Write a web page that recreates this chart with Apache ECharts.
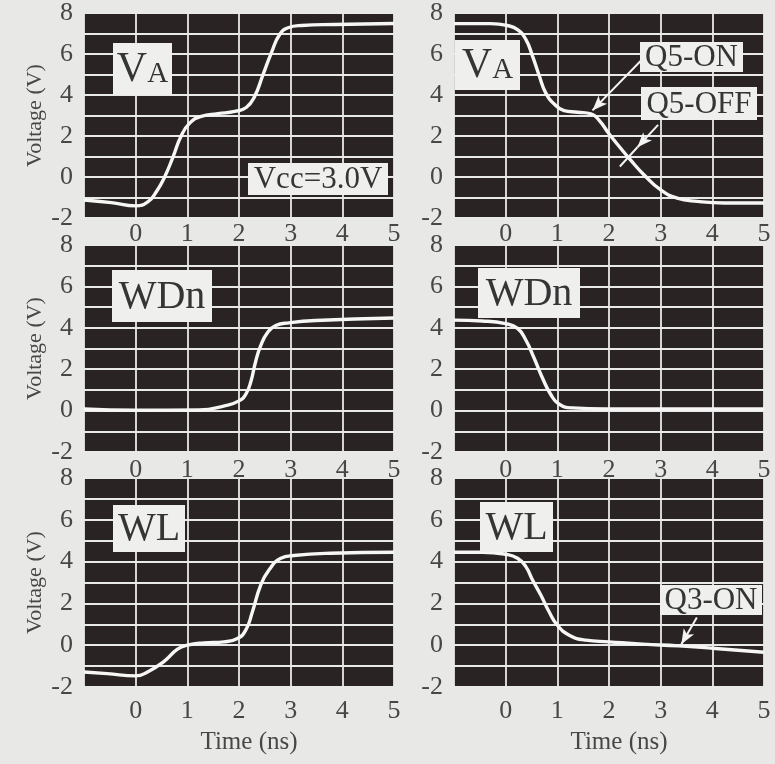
<!DOCTYPE html>
<html>
<head>
<meta charset="utf-8">
<script src="https://cdn.jsdelivr.net/npm/echarts@6/dist/echarts.min.js"></script>
<style>
  html, body { margin: 0; padding: 0; background: #e8e8e7; }
  #chart { width: 775px; height: 764px; }
</style>
</head>
<body>
<div id="chart"></div>
<script>
// tick labels
const xTickLabels = ['0', '1', '2', '3', '4', '5']
const yTickLabels = ['-2', '0', '2', '4', '6', '8']

// [time (ns), voltage (V)]
const vaRise = [[-1, -1.12], [-0.47, -1.25], [0, -1.41], [0.24, -1.2], [0.4, -0.72], [0.56, 0.0],
  [0.72, 0.96], [0.88, 2.0], [1.05, 2.64], [1.27, 2.96], [1.59, 3.09], [1.92, 3.2], [2.14, 3.39],
  [2.3, 3.92], [2.46, 4.96], [2.63, 6.08], [2.79, 6.96], [2.95, 7.28], [3.21, 7.39], [3.85, 7.44], [5, 7.49]]
const wdnRise = [[-1, 0.08], [0, 0.02], [1.23, 0.03], [1.74, 0.24], [2.0, 0.47], [2.13, 0.78],
  [2.23, 1.41], [2.32, 2.35], [2.42, 3.14], [2.55, 3.76], [2.71, 4.11], [2.97, 4.24], [3.48, 4.35], [5, 4.47]]
const wlRise = [[-1, -1.28], [-0.55, -1.36], [0, -1.47], [0.23, -1.28], [0.55, -0.77], [0.81, -0.19],
  [1.0, 0.0], [1.32, 0.11], [1.71, 0.16], [1.97, 0.32], [2.13, 0.72], [2.26, 1.6], [2.42, 2.88],
  [2.58, 3.6], [2.81, 4.16], [3.06, 4.29], [3.77, 4.4], [5, 4.45]]
const vaFall = [[-1, 7.48], [-0.29, 7.48], [0.03, 7.39], [0.23, 7.19], [0.39, 6.71], [0.52, 5.9],
  [0.65, 4.94], [0.77, 4.13], [0.94, 3.56], [1.13, 3.24], [1.39, 3.16], [1.65, 3.08], [1.81, 2.76],
  [2.0, 2.11], [2.23, 1.39], [2.42, 0.82], [2.68, 0.1], [3.0, -0.63], [3.32, -1.03], [3.71, -1.19],
  [4.23, -1.27], [5, -1.27]]
const wdnFall = [[-1, 4.37], [-0.45, 4.33], [0, 4.2], [0.23, 3.97], [0.39, 3.41], [0.55, 2.54],
  [0.71, 1.59], [0.87, 0.79], [1.03, 0.32], [1.29, 0.13], [1.94, 0.08], [5, 0.08]]
const wlFall = [[-1, 4.45], [-0.45, 4.45], [0, 4.35], [0.23, 4.16], [0.39, 3.76], [0.52, 3.12],
  [0.68, 2.4], [0.84, 1.6], [1.0, 0.96], [1.23, 0.48], [1.55, 0.24], [2.0, 0.16], [2.65, 0.05],
  [3.35, -0.03], [4.06, -0.16], [5, -0.34]]

const panels = [vaRise, vaFall, wdnRise, wdnFall, wlRise, wlFall]

// annotation arrows, data coords
const q5OnArrow = [[2.64, 5.73], [1.68, 3.25]]
const q5OffArrow = [[2.95, 2.54], [2.55, 1.45], [2.21, 0.51]]
const q3OnArrow = [[3.7, 1.32], [3.4, 0.05]]

const font = 'Liberation Serif, Times New Roman, serif'
const textColor = '#474747'

const lefts = [84, 454]
const tops = [10, 245, 478]
const heights = [208, 207, 209]
const labelMargins = [3, 5, 11]

const grids = []
const xAxes = []
const yAxes = []
const series = []

panels.forEach((data, i) => {
  const row = Math.floor(i / 2)
  const col = i % 2
  grids.push({
    left: lefts[col],
    top: tops[row],
    width: 310,
    height: heights[row],
    show: true,
    backgroundColor: '#2a2323',
    borderWidth: 0
  })
  xAxes.push({
    type: 'value',
    gridIndex: i,
    min: -1,
    max: 5,
    interval: 1,
    name: row === 2 ? 'Time (ns)' : '',
    nameLocation: 'middle',
    nameGap: 43,
    nameTextStyle: { fontFamily: font, fontSize: 25, color: textColor, padding: [0, 0, 0, 20] },
    axisLine: { show: false },
    axisTick: { show: false },
    axisLabel: {
      fontFamily: font,
      fontSize: 26,
      color: textColor,
      margin: labelMargins[row],
      formatter: v => (xTickLabels.includes(String(v)) ? String(v) : '')
    },
    splitLine: { show: true, lineStyle: { color: '#e9e9e9', width: 1.8 } }
  })
  yAxes.push({
    type: 'value',
    gridIndex: i,
    min: -2,
    max: 8,
    interval: 1,
    name: col === 0 ? 'Voltage (V)' : '',
    nameLocation: 'middle',
    nameGap: 38,
    nameTextStyle: { fontFamily: font, fontSize: 22, color: textColor },
    axisLine: { show: false },
    axisTick: { show: false },
    axisLabel: {
      fontFamily: font,
      fontSize: 26,
      color: textColor,
      margin: 11,
      showMinLabel: true,
      showMaxLabel: true,
      formatter: v => (yTickLabels.includes(String(v)) ? String(v) : '')
    },
    splitLine: { show: true, lineStyle: { color: '#e9e9e9', width: 1.8 } }
  })
  series.push({
    type: 'line',
    xAxisIndex: i,
    yAxisIndex: i,
    data: data,
    showSymbol: false,
    smooth: 0.5,
    lineStyle: { color: '#f6f6f6', width: 3.4 },
    silent: true,
    z: 3
  })
})

const arrowStyle = { color: '#f4f4f4', width: 2, type: 'solid' }
function arrowLine(a, b, head) {
  return [{ coord: a, symbol: 'none' }, { coord: b, symbol: head ? 'arrow' : 'none' }]
}
series[1].markLine = {
  silent: true,
  symbolSize: [9, 15],
  label: { show: false },
  lineStyle: arrowStyle,
  data: [
    arrowLine(q5OnArrow[0], q5OnArrow[1], true),
    arrowLine(q5OffArrow[0], q5OffArrow[1], true),
    arrowLine(q5OffArrow[1], q5OffArrow[2], false)
  ]
}
series[5].markLine = {
  silent: true,
  symbolSize: [9, 15],
  label: { show: false },
  lineStyle: arrowStyle,
  data: [arrowLine(q3OnArrow[0], q3OnArrow[1], true)]
}

// boxed annotation text
function box(x, y, w, h, text, size, rich) {
  return [
    { type: 'rect', z: 100, shape: { x: x, y: y, width: w, height: h }, style: { fill: '#efefee' } },
    {
      type: 'text',
      z: 101,
      x: x + w / 2,
      y: y + h / 2 + 1,
      style: {
        text: text,
        rich: rich,
        font: size + 'px ' + font,
        fill: '#353535',
        align: 'center',
        verticalAlign: 'middle'
      }
    }
  ]
}
const vaRich = {
  v: { fontSize: 42, fontFamily: font, fill: '#353535', verticalAlign: 'bottom' },
  a: { fontSize: 29, fontFamily: font, fill: '#353535', verticalAlign: 'bottom', padding: [0, 0, 2, 0] }
}

const option = {
  backgroundColor: '#e8e8e7',
  animation: false,
  grid: grids,
  xAxis: xAxes,
  yAxis: yAxes,
  series: series,
  graphic: {
    z: 100,
    elements: [].concat(
      box(113, 43, 59, 52, '{v|V}{a|A}', 42, vaRich),
      box(455, 40, 65, 50, '{v|V}{a|A}', 42, vaRich),
      box(112, 270, 100, 52, 'WDn', 40),
      box(478, 268, 102, 50, 'WDn', 40),
      box(113, 505, 72, 47, 'WL', 40),
      box(480, 502, 73, 50, 'WL', 40),
      box(248, 163, 140, 32, 'Vcc=3.0V', 31),
      box(640, 42, 103, 30, 'Q5-ON', 31),
      box(641, 87, 116, 33, 'Q5-OFF', 31),
      box(660, 585, 102, 30, 'Q3-ON', 31)
    )
  }
}

const chart = echarts.init(document.getElementById('chart'))
chart.setOption(option)
</script>
</body>
</html>
